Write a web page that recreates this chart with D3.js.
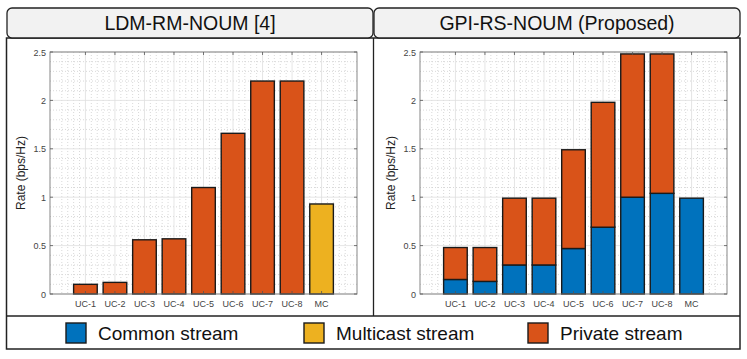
<!DOCTYPE html>
<html>
<head>
<meta charset="utf-8">
<script src="https://cdn.jsdelivr.net/npm/d3@7"></script>
<style>
  body { margin: 0; background: #fff; }
  svg { display: block; font-family: "Liberation Sans", Arial, sans-serif; }
</style>
</head>
<body>
<svg id="fig" width="747" height="359"></svg>
<script>
// categories on the x axis
const categories = ['UC-1', 'UC-2', 'UC-3', 'UC-4', 'UC-5', 'UC-6', 'UC-7', 'UC-8', 'MC'];
const yTicks = [0, 0.5, 1, 1.5, 2, 2.5];

// LDM-RM-NOUM [4]: unicast users get private rate, MC group gets multicast rate
const ldmPrivate = [0.10, 0.12, 0.56, 0.57, 1.10, 1.66, 2.20, 2.20];
const ldmMulticast = 0.93;

// GPI-RS-NOUM (Proposed): common + private per user, MC group common only
const gpiCommon = [0.15, 0.13, 0.30, 0.30, 0.47, 0.69, 1.00, 1.04];
const gpiPrivate = [0.33, 0.35, 0.69, 0.69, 1.02, 1.29, 1.48, 1.44];
const gpiMcCommon = 0.99;

const legendItems = [
  { label: 'Common stream', color: '#0072BD' },
  { label: 'Multicast stream', color: '#EDB120' },
  { label: 'Private stream', color: '#D95319' }
];
const colors = { common: '#0072BD', multicast: '#EDB120', private: '#D95319' };

const svg = d3.select('#fig');

// build the list of rectangles (segments) for each panel
function ldmSegments() {
  const segs = ldmPrivate.map((v, i) => ({ pos: i + 1, y0: 0, y1: v, color: colors.private }));
  segs.push({ pos: 9, y0: 0, y1: ldmMulticast, color: colors.multicast });
  return segs;
}
function gpiSegments() {
  const segs = [];
  gpiCommon.forEach((c, i) => {
    segs.push({ pos: i + 1, y0: 0, y1: c, color: colors.common });
    segs.push({ pos: i + 1, y0: c, y1: c + gpiPrivate[i], color: colors.private });
  });
  segs.push({ pos: 9, y0: 0, y1: gpiMcCommon, color: colors.common });
  return segs;
}

function drawPanel(g, left, right, segs) {
  const top = 52, bottom = 294;
  const x = d3.scaleLinear().domain([-0.2, 10.2]).range([left, right]);
  const y = d3.scaleLinear().domain([0, 2.5]).range([bottom, top]);

  // minor grid (dotted)
  const minorX = d3.range(0, 51).map(k => k * 0.2).filter(v => v > -0.2 && v < 10.2 && Math.abs(v - Math.round(v)) > 1e-6);
  const minorY = d3.range(0, 26).map(k => k * 0.1).filter(v => Math.abs(v * 2 - Math.round(v * 2)) > 1e-6);
  g.append('g').selectAll('line').data(minorX).join('line')
    .attr('x1', d => x(d)).attr('x2', d => x(d)).attr('y1', top).attr('y2', bottom)
    .attr('stroke', '#c8c8c8').attr('stroke-width', 0.7).attr('stroke-dasharray', '1,2');
  g.append('g').selectAll('line').data(minorY).join('line')
    .attr('x1', left).attr('x2', right).attr('y1', d => y(d)).attr('y2', d => y(d))
    .attr('stroke', '#c8c8c8').attr('stroke-width', 0.7).attr('stroke-dasharray', '1,2');

  // major grid
  g.append('g').selectAll('line').data(d3.range(1, 10)).join('line')
    .attr('x1', d => x(d)).attr('x2', d => x(d)).attr('y1', top).attr('y2', bottom)
    .attr('stroke', '#dedede').attr('stroke-width', 0.8);
  g.append('g').selectAll('line').data(yTicks).join('line')
    .attr('x1', left).attr('x2', right).attr('y1', d => y(d)).attr('y2', d => y(d))
    .attr('stroke', '#dedede').attr('stroke-width', 0.8);

  // bars
  const bw = x(0.8) - x(0);
  g.append('g').selectAll('rect').data(segs).join('rect')
    .attr('x', d => x(d.pos) - bw / 2)
    .attr('y', d => y(d.y1))
    .attr('width', bw)
    .attr('height', d => y(d.y0) - y(d.y1))
    .attr('fill', d => d.color)
    .attr('stroke', '#1a1a1a').attr('stroke-width', 1.4);

  // axes box
  g.append('rect').attr('x', left).attr('y', top).attr('width', right - left).attr('height', bottom - top)
    .attr('fill', 'none').attr('stroke', '#7a7a7a').attr('stroke-width', 0.9);

  // inward tick marks
  const tk = 3;
  const tg = g.append('g').attr('stroke', '#555').attr('stroke-width', 0.8);
  d3.range(1, 10).forEach(d => {
    tg.append('line').attr('x1', x(d)).attr('x2', x(d)).attr('y1', bottom).attr('y2', bottom - tk);
    tg.append('line').attr('x1', x(d)).attr('x2', x(d)).attr('y1', top).attr('y2', top + tk);
  });
  yTicks.forEach(d => {
    tg.append('line').attr('x1', left).attr('x2', left + tk).attr('y1', y(d)).attr('y2', y(d));
    tg.append('line').attr('x1', right).attr('x2', right - tk).attr('y1', y(d)).attr('y2', y(d));
  });

  // tick labels
  g.append('g').selectAll('text').data(categories).join('text')
    .attr('x', (d, i) => x(i + 1)).attr('y', 307)
    .attr('text-anchor', 'middle').attr('font-size', 9).attr('fill', '#444')
    .text(d => d);
  g.append('g').selectAll('text').data(yTicks).join('text')
    .attr('x', left - 4).attr('y', d => y(d) + 3.5)
    .attr('text-anchor', 'end').attr('font-size', 9).attr('fill', '#444')
    .text(d => d);

  // y label
  g.append('text')
    .attr('transform', `translate(${left - 25},${(top + bottom) / 2}) rotate(-90)`)
    .attr('text-anchor', 'middle').attr('font-size', 12).attr('fill', '#222')
    .text('Rate (bps/Hz)');
}

function titleBox(x0, x1, text) {
  svg.append('rect').attr('x', x0).attr('y', 8).attr('width', x1 - x0).attr('height', 30)
    .attr('rx', 5).attr('fill', '#f2f2f2').attr('stroke', '#222').attr('stroke-width', 1.3);
  svg.append('text').attr('x', (x0 + x1) / 2).attr('y', 30)
    .attr('text-anchor', 'middle').attr('font-size', 19.5).attr('fill', '#111')
    .text(text);
}

// outer frame of both panels + legend
svg.append('rect').attr('x', 6.5).attr('y', 38).attr('width', 733.5).attr('height', 311)
  .attr('fill', '#fff').attr('stroke', '#222').attr('stroke-width', 1.5);
svg.append('line').attr('x1', 373.5).attr('x2', 373.5).attr('y1', 38).attr('y2', 316)
  .attr('stroke', '#222').attr('stroke-width', 1.3);
svg.append('line').attr('x1', 6.5).attr('x2', 740).attr('y1', 316).attr('y2', 316)
  .attr('stroke', '#222').attr('stroke-width', 1.3);

titleBox(7, 373, 'LDM-RM-NOUM [4]');
titleBox(374, 740, 'GPI-RS-NOUM (Proposed)');

drawPanel(svg.append('g'), 50, 357, ldmSegments());
drawPanel(svg.append('g'), 420, 727, gpiSegments());

// legend
const legendX = [66, 304, 528];
const lg = svg.append('g').selectAll('g').data(legendItems).join('g')
  .attr('transform', (d, i) => `translate(${legendX[i]},323)`);
lg.append('rect').attr('width', 20).attr('height', 20)
  .attr('fill', d => d.color).attr('stroke', '#1a1a1a').attr('stroke-width', 1.4);
lg.append('text').attr('x', 32).attr('y', 16.5).attr('font-size', 19).attr('fill', '#111')
  .text(d => d.label);
</script>
</body>
</html>
